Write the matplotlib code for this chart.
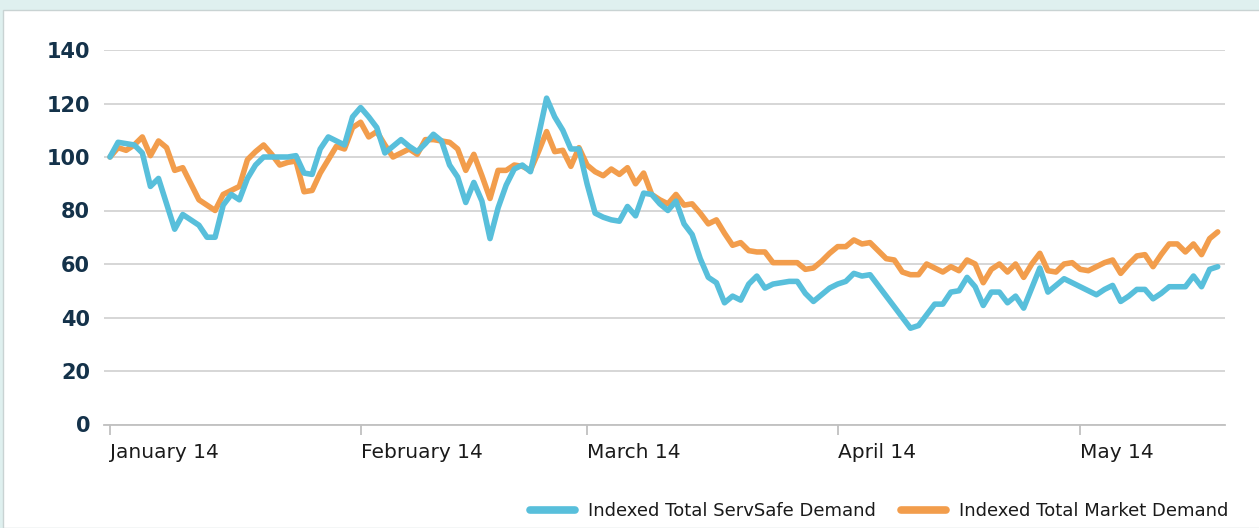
import matplotlib
matplotlib.use("Agg")
import matplotlib.pyplot as plt
import matplotlib.dates as mdates
import matplotlib.patches as mpatches
from matplotlib.lines import Line2D
import pandas as pd

BLUE, ORANGE = "#58bfdb", "#f29d4c"
GRID = "#d3d3d3"

start = "2014-01-14"
servsafe = [
    100, 105.5, 105, 104.5, 101.5, 89, 92, 82.5, 73, 78.5,
    76.5, 74.5, 70, 70, 82, 86, 84, 92, 97, 100,
    100, 100, 100, 100.5, 94, 93.5, 103, 107.5, 106, 104.5,
    115, 118.5, 115, 111, 101.5, 104, 106.5, 104, 102, 105,
    108.5, 106, 97, 92.5, 83, 90.5, 83.5, 69.5, 81, 89.5,
    95.5, 97, 94.5, 108, 122, 115, 110, 103, 103, 90,
    79, 77.5, 76.5, 76, 81.5, 78, 86.5, 86, 82.5, 80,
    83.5, 75, 71, 62, 55, 53, 45.5, 48, 46.5, 52.5,
    55.5, 51, 52.5, 53, 53.5, 53.5, 49, 46, 48.5, 51,
    52.5, 53.5, 56.5, 55.5, 56, 52, 48, 44, 40, 36,
    37, 41, 45, 45, 49.5, 50, 55, 51.5, 44.5, 49.5,
    49.5, 45.5, 48, 43.5, 51, 58.5, 49.5, 52, 54.5, 53,
    51.5, 50, 48.5, 50.5, 52, 46, 48, 50.5, 50.5, 47,
    49, 51.5, 51.5, 51.5, 55.5, 51.5, 58, 59,
]
market = [
    100, 103.5, 102.5, 104.5, 107.5, 100.5, 106, 103.5, 95, 96,
    90, 84, 82, 80, 86, 87.5, 89, 99, 102, 104.5,
    101, 97, 98, 98.5, 87, 87.5, 94, 99, 104, 103,
    111, 113, 107.5, 109.5, 104.5, 100, 101.5, 103, 101, 106.5,
    106.5, 106, 105.5, 103, 95, 101, 93, 84.5, 95, 95,
    97, 96.5, 95, 102, 109.5, 102, 102.5, 96.5, 103.5, 97,
    94.5, 93, 95.5, 93.5, 96, 90, 94, 86, 84, 82.5,
    86, 82, 82.5, 79, 75, 76.5, 71.5, 67, 68, 65,
    64.5, 64.5, 60.5, 60.5, 60.5, 60.5, 58, 58.5, 61, 64,
    66.5, 66.5, 69, 67.5, 68, 65, 62, 61.5, 57, 56,
    56, 60, 58.5, 57, 59, 57.5, 61.5, 60, 53, 58,
    60, 57, 60, 55, 60, 64, 57.5, 57, 60, 60.5,
    58, 57.5, 59, 60.5, 61.5, 56.5, 60, 63, 63.5, 59,
    63.5, 67.5, 67.5, 64.5, 67.5, 63.5, 69.5, 72,
]
tick_dates = ["2014-01-14", "2014-02-14", "2014-03-14", "2014-04-14", "2014-05-14"]
tick_labels = ["January 14", "February 14", "March 14", "April 14", "May 14"]
y_ticks = [0, 20, 40, 60, 80, 100, 120, 140]
labels = ["Indexed Total ServSafe Demand", "Indexed Total Market Demand"]

dates = pd.date_range(start, periods=len(servsafe), freq="D")

W, H = 1259, 528
fig = plt.figure(figsize=(W / 100, H / 100), dpi=100)
fig.patch.set_facecolor("#dff0ef")
fig.patches.append(mpatches.Rectangle((3 / W, 0), 1, (H - 10) / H, transform=fig.transFigure,
                                      facecolor="white", edgecolor="#c9d3d3", lw=1, zorder=-5))

ax = fig.add_axes([104 / W, (H - 424.5) / H, (1225 - 104) / W, 374.5 / H])
ax.set_facecolor("none")
ax.set_zorder(2)

ax.plot(dates, market, color=ORANGE, lw=4, solid_joinstyle="round", solid_capstyle="round", zorder=3)
ax.plot(dates, servsafe, color=BLUE, lw=4, solid_joinstyle="round", solid_capstyle="round", zorder=4)

d0 = pd.Timestamp(start)
ax.set_xlim(d0 - pd.Timedelta(days=0.74), d0 + pd.Timedelta(days=137.9))
ax.set_ylim(0, 140)
ax.set_yticks(y_ticks)
ax.set_yticklabels([str(v) for v in y_ticks], fontsize=15, fontweight="bold", color="#14324a")
ax.tick_params(axis="y", length=0, pad=10)
ax.grid(axis="y", color=GRID, lw=1.3, zorder=1)

ax.set_xticks([mdates.date2num(pd.Timestamp(d)) for d in tick_dates])
ax.set_xticklabels(tick_labels, fontsize=14.5, color="#1a1a1a", ha="left")
ax.tick_params(axis="x", length=7, width=1.3, color="#c0c0c0", pad=6)

for s in ["top", "right", "left"]:
    ax.spines[s].set_visible(False)
ax.spines["bottom"].set_color("#c0c0c0")
ax.spines["bottom"].set_linewidth(1.3)
ax.spines["bottom"].set_zorder(2)

handles = [Line2D([], [], color=BLUE, lw=5.5, solid_capstyle="round"),
           Line2D([], [], color=ORANGE, lw=5.5, solid_capstyle="round")]
fig.legend(handles, labels, loc="center right", bbox_to_anchor=(1228 / W, 17 / H), ncol=2,
           frameon=False, fontsize=13, handlelength=2.5, handletextpad=0.7, columnspacing=1.4,
           borderpad=0, borderaxespad=0, labelcolor="#1a1a1a")

fig.savefig("out.png", dpi=100)
